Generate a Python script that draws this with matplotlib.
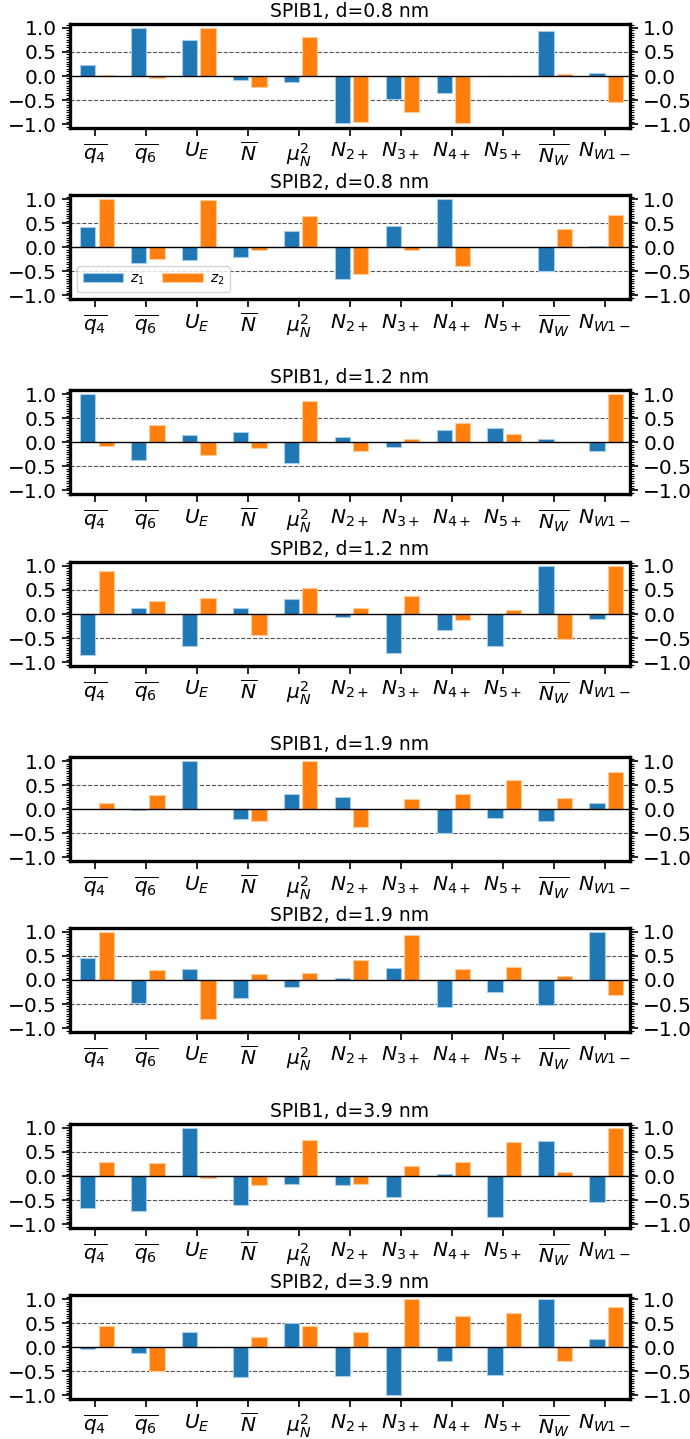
import numpy as np
import matplotlib
matplotlib.use("Agg")
import matplotlib.pyplot as plt
from matplotlib.ticker import MultipleLocator

FEATURES = [r"$\overline{q_4}$", r"$\overline{q_6}$", r"$U_E$", r"$\overline{N}$",
            r"$\mu_N^2$", r"$N_{2+}$", r"$N_{3+}$", r"$N_{4+}$", r"$N_{5+}$",
            r"$\overline{N_W}$", r"$N_{W1-}$"]

TITLES = ["SPIB1, d=0.8 nm", "SPIB2, d=0.8 nm",
          "SPIB1, d=1.2 nm", "SPIB2, d=1.2 nm",
          "SPIB1, d=1.9 nm", "SPIB2, d=1.9 nm",
          "SPIB1, d=3.9 nm", "SPIB2, d=3.9 nm"]

# z1 / z2 weights per feature
spib1_08_z1 = [0.23, 1.00, 0.74, -0.08, -0.12, -0.98, -0.47, -0.36, 0.0, 0.93, 0.07]
spib1_08_z2 = [0.02, -0.05, 1.00, -0.22, 0.81, -0.96, -0.74, -0.98, 0.0, 0.04, -0.53]
spib2_08_z1 = [0.43, -0.32, -0.26, -0.21, 0.33, -0.65, 0.45, 1.00, 0.0, -0.50, 0.03]
spib2_08_z2 = [1.00, -0.24, 0.98, -0.06, 0.66, -0.55, -0.05, -0.39, 0.0, 0.38, 0.68]
spib1_12_z1 = [1.00, -0.37, 0.15, 0.21, -0.43, 0.11, -0.10, 0.26, 0.30, 0.06, -0.19]
spib1_12_z2 = [-0.08, 0.36, -0.26, -0.11, 0.85, -0.18, 0.06, 0.40, 0.17, 0.0, 1.00]
spib2_12_z1 = [-0.86, 0.12, -0.67, 0.12, 0.31, -0.06, -0.82, -0.33, -0.67, 1.00, -0.10]
spib2_12_z2 = [0.89, 0.26, 0.34, -0.44, 0.54, 0.13, 0.38, -0.12, 0.09, -0.51, 1.00]
spib1_19_z1 = [0.0, -0.02, 1.00, -0.20, 0.32, 0.25, 0.0, -0.49, -0.19, -0.25, 0.14]
spib1_19_z2 = [0.14, 0.30, 0.0, -0.25, 1.00, -0.37, 0.21, 0.31, 0.60, 0.23, 0.77]
spib2_19_z1 = [0.45, -0.48, 0.22, -0.38, -0.14, 0.05, 0.24, -0.57, -0.24, -0.52, 1.00]
spib2_19_z2 = [1.00, 0.20, -0.80, 0.13, 0.14, 0.41, 0.94, 0.23, 0.28, 0.08, -0.31]
spib1_39_z1 = [-0.66, -0.72, 1.00, -0.61, -0.17, -0.19, -0.44, 0.04, -0.85, 0.72, -0.55]
spib1_39_z2 = [0.30, 0.27, -0.05, -0.18, 0.75, -0.17, 0.20, 0.30, 0.70, 0.08, 1.00]
spib2_39_z1 = [-0.04, -0.12, 0.31, -0.62, 0.50, -0.59, -1.00, -0.29, -0.57, 1.00, 0.18]
spib2_39_z2 = [0.45, -0.50, 0.0, 0.22, 0.45, 0.32, 1.00, 0.65, 0.71, -0.29, 0.84]

Z1 = [spib1_08_z1, spib2_08_z1, spib1_12_z1, spib2_12_z1,
      spib1_19_z1, spib2_19_z1, spib1_39_z1, spib2_39_z1]
Z2 = [spib1_08_z2, spib2_08_z2, spib1_12_z2, spib2_12_z2,
      spib1_19_z2, spib2_19_z2, spib1_39_z2, spib2_39_z2]


def _plot(path):
    plt.rcParams["font.size"] = 13.5
    W, H = 690, 1439
    fig = plt.figure(figsize=(W / 100, H / 100), dpi=100)

    # panel tops in pixels (pairs are closer together than pair-to-pair)
    tops = [24, 195.3, 390.3, 562, 757.3, 928, 1124, 1295.3]
    left, width, height = 70, 560, 104
    x = np.arange(len(FEATURES))
    bw = 0.3
    blue, orange = "#1f77b4", "#ff7f0e"

    for i, top in enumerate(tops):
        ax = fig.add_axes([left / W, 1 - (top + height) / H, width / W, height / H])
        ax.bar(x - 0.15, Z1[i], bw, color=blue, edgecolor=(0.65, 0.8, 0.92), lw=0.8,
               label=r"$z_1$", zorder=3)
        ax.bar(x + 0.21, Z2[i], bw, color=orange, edgecolor=(1.0, 0.8, 0.6), lw=0.8,
               label=r"$z_2$", zorder=3)
        ax.axhline(0, color="black", lw=1.0, zorder=4)
        for yv in (0.5, -0.5):
            ax.axhline(yv, color="#555555", lw=0.8, ls="--", zorder=1)

        ax.set_xlim(-0.5, 10.5)
        ax.set_ylim(-1.08, 1.08)
        ax.set_xticks(x)
        ax.set_xticklabels(FEATURES)
        ax.set_yticks([-1.0, -0.5, 0.0, 0.5, 1.0])
        ax.yaxis.set_minor_locator(MultipleLocator(0.05))
        ax.tick_params(axis="y", which="major", length=6, width=1.2, labelsize=14.5,
                       left=True, right=True, labelleft=True, labelright=True)
        ax.tick_params(axis="y", which="minor", length=3, width=0.8,
                       left=True, right=True)
        ax.tick_params(axis="x", which="major", length=6, width=1.2, labelsize=14.5)
        for sp in ax.spines.values():
            sp.set_linewidth(2.4)
        ax.set_title(TITLES[i], fontsize=13.5, pad=5)

        if i == 1:
            ax.legend(loc="lower left", ncol=2, fontsize=10, handlelength=2.9,
                      handletextpad=0.5, columnspacing=1.3)

    fig.savefig(path, dpi=100)
    plt.close(fig)


if __name__ == "__main__":
    _plot("out.png")
